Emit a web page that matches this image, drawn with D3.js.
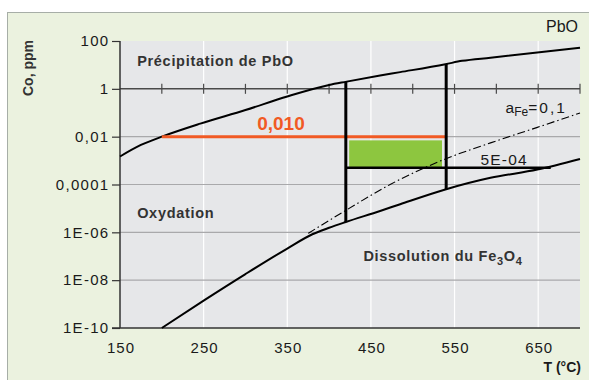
<!DOCTYPE html>
<html>
<head>
<meta charset="utf-8">
<script src="https://cdn.jsdelivr.net/npm/d3@7"></script>
<style>
html,body{margin:0;padding:0;background:#fff;}
svg{display:block;font-family:"Liberation Sans",Arial,Helvetica,sans-serif;}
</style>
</head>
<body>
<svg id="chart" width="589" height="380"></svg>
<script>
// ---- data ----
const xTicks = [150, 250, 350, 450, 550, 650];
const xMinorTicks = [200, 250, 300, 350, 400, 450, 500, 550, 600, 650, 700];
const yTicks = [1e2, 1, 1e-2, 1e-4, 1e-6, 1e-8, 1e-10];
const yTickLabels = ["100", "1", "0,01", "0,0001", "1E-06", "1E-08", "1E-10"];
const gridY = [1e-2, 1e-4, 1e-6, 1e-8];

// PbO precipitation boundary
const pboT   = [150, 175, 200, 246, 300, 350, 400, 421, 461, 485, 539, 559, 593, 700];
const pboCo  = [1.48e-3, 4.5e-3, 1.0e-2, 3.5e-2, 0.13, 0.48, 1.45, 2.0, 3.6, 5.0, 10.7, 14.8, 20, 52];

// Fe3O4 dissolution boundary
const feT    = [200, 250, 300, 350, 380, 400, 420, 461, 485, 539, 593, 649, 700];
const feCo   = [1e-10, 1.4e-9, 1.8e-8, 2.1e-7, 8.3e-7, 1.55e-6, 2.7e-6, 7.8e-6, 1.5e-5, 6.2e-5, 1.9e-4, 4.2e-4, 1.17e-3];

// aFe = 0,1 (dash-dot)
const aFeT   = [375, 420, 473, 539, 593, 649, 700];
const aFeCo  = [9.1e-7, 8.3e-6, 1.0e-4, 1.17e-3, 5.5e-3, 2.45e-2, 9.8e-2];

// vertical limits
const vT      = [420, 540];
const vTop    = [2.0, 10.9];
const vBottom = [2.7e-6, 6.3e-5];

// orange 0,010 line
const orangeT = [200, 541];
const orangeCo = 0.01;
// 5E-04 line
const limT = [420, 665];
const limCo = 5e-4;
// green zone
const greenT = [424, 535];
const greenCo = [5e-4, 7.0e-3];

// ---- layout ----
const svg = d3.select("#chart");
const m = {left: 120, top: 41, right: 580, bottom: 328};

const x = d3.scaleLinear().domain([150, 700]).range([m.left, m.right]);
const y = d3.scaleLog().domain([1e-10, 1e2]).range([m.bottom, m.top]);

// outer frame
svg.append("rect").attr("x", 7.5).attr("y", 12.5).attr("width", 600).attr("height", 400)
  .attr("fill", "#ebf2df").attr("stroke", "#a7aea7").attr("stroke-width", 1);

// plot bg
svg.append("rect").attr("x", m.left).attr("y", m.top)
  .attr("width", m.right - m.left).attr("height", m.bottom - m.top)
  .attr("fill", "#e6e7e9");

// vertical white grid
svg.append("g").selectAll("line").data(xTicks.slice(1)).join("line")
  .attr("x1", d => x(d)).attr("x2", d => x(d))
  .attr("y1", m.top).attr("y2", m.bottom)
  .attr("stroke", "#ffffff").attr("stroke-width", 1.2);

// horizontal gray grid
svg.append("g").selectAll("line").data(gridY).join("line")
  .attr("x1", m.left).attr("x2", m.right)
  .attr("y1", d => y(d)).attr("y2", d => y(d))
  .attr("stroke", "#a9a9ab").attr("stroke-width", 1.2);

// line at 1 with ticks
svg.append("line").attr("x1", m.left).attr("x2", m.right)
  .attr("y1", y(1)).attr("y2", y(1)).attr("stroke", "#4a4a4a").attr("stroke-width", 1.5);
svg.append("g").selectAll("line").data(xMinorTicks).join("line")
  .attr("x1", d => x(d)).attr("x2", d => x(d))
  .attr("y1", y(1) - 5).attr("y2", y(1) + 5)
  .attr("stroke", "#4a4a4a").attr("stroke-width", 1.2);

// y axis
const yAxis = d3.axisLeft(y).tickValues(yTicks).tickSize(8).tickPadding(2.5)
  .tickFormat((d, i) => yTickLabels[i]);
const gy = svg.append("g").attr("transform", `translate(${m.left},0)`).call(yAxis);
gy.select(".domain").attr("stroke", "#333").attr("stroke-width", 1.5).attr("d", `M0,${m.top}V${m.bottom}`);
gy.selectAll(".tick line").attr("stroke", "#333").attr("stroke-width", 1.2);
gy.selectAll(".tick text").attr("fill", "#1a1a1a").attr("font-size", 15)
  .attr("font-family", "Liberation Sans, Arial, sans-serif")
  .attr("letter-spacing", 1.3);

// x axis
const xAxis = d3.axisBottom(x).tickValues(xTicks).tickSize(0).tickPadding(14);
const gx = svg.append("g").attr("transform", `translate(0,${m.bottom})`).call(xAxis);
gx.select(".domain").attr("stroke", "#333").attr("stroke-width", 1.5).attr("d", `M${m.left - 8},0H${m.right}`);
gx.selectAll(".tick text").attr("fill", "#1a1a1a").attr("font-size", 15)
  .attr("font-family", "Liberation Sans, Arial, sans-serif").attr("letter-spacing", 1)
  .attr("dx", 0.5);

// green zone
svg.append("rect")
  .attr("x", x(greenT[0])).attr("y", y(greenCo[1]))
  .attr("width", x(greenT[1]) - x(greenT[0])).attr("height", y(greenCo[0]) - y(greenCo[1]))
  .attr("fill", "#8dc63f");

const line = d3.line().x(d => x(d[0])).y(d => y(d[1])).curve(d3.curveMonotoneX);

// curves
svg.append("path").datum(pboT.map((t, i) => [t, pboCo[i]])).attr("d", line)
  .attr("fill", "none").attr("stroke", "#000").attr("stroke-width", 2);
svg.append("path").datum(feT.map((t, i) => [t, feCo[i]])).attr("d", line)
  .attr("fill", "none").attr("stroke", "#000").attr("stroke-width", 2);
svg.append("path").datum(aFeT.map((t, i) => [t, aFeCo[i]])).attr("d", line)
  .attr("fill", "none").attr("stroke", "#000").attr("stroke-width", 1.1)
  .attr("stroke-dasharray", "8,3,1.5,3");

// orange line
svg.append("line").attr("x1", x(orangeT[0])).attr("x2", x(orangeT[1]))
  .attr("y1", y(orangeCo)).attr("y2", y(orangeCo))
  .attr("stroke", "#f15a24").attr("stroke-width", 3);

// 5E-04 line
svg.append("line").attr("x1", x(limT[0])).attr("x2", x(limT[1]))
  .attr("y1", y(limCo)).attr("y2", y(limCo))
  .attr("stroke", "#000").attr("stroke-width", 2.5);

// vertical limits
svg.append("g").selectAll("line").data(vT).join("line")
  .attr("x1", d => x(d)).attr("x2", d => x(d))
  .attr("y1", (d, i) => y(vTop[i])).attr("y2", (d, i) => y(vBottom[i]))
  .attr("stroke", "#000").attr("stroke-width", 3);

// texts
const bold = {"font-weight": "bold", "font-size": 14.5, "fill": "#333", "letter-spacing": 0.7};
function txt(s, px, py, attrs) {
  const t = svg.append("text").attr("x", px).attr("y", py).text(s);
  Object.entries(attrs || {}).forEach(([k, v]) => t.attr(k, v));
  return t;
}
txt("Précipitation de PbO", x(170.5), 66, bold);
txt("Oxydation", x(170.5), 218, bold);
const dis = txt("Dissolution du Fe", x(441), 261, bold);
dis.append("tspan").text("3").attr("font-size", 11).attr("dy", 4);
dis.append("tspan").text("O").attr("dy", -4);
dis.append("tspan").text("4").attr("font-size", 11).attr("dy", 4);

txt("0,010", x(314), 130, {"font-weight": "bold", "font-size": 19, "fill": "#f15a24"});
txt("5E-04", x(581), 165, {"font-size": 15.5, "fill": "#1a1a1a", "letter-spacing": 1.2});
const af = txt("a", x(611), 113, {"font-size": 15.5, "fill": "#1a1a1a"});
af.append("tspan").text("Fe").attr("font-size", 12).attr("dy", 3);
af.append("tspan").text("=0,1").attr("dy", -3).attr("letter-spacing", 2);

txt("PbO", 578, 32, {"font-size": 16, "fill": "#1a1a1a", "text-anchor": "end"});
txt("T (°C)", 581, 372, {"font-size": 14, "fill": "#1a1a1a", "font-weight": "bold", "text-anchor": "end"});
svg.append("text").attr("transform", "translate(33,68) rotate(-90)")
  .attr("text-anchor", "middle").attr("font-size", 14).attr("font-weight", "bold")
  .attr("fill", "#333").text("Co, ppm");
</script>
</body>
</html>
